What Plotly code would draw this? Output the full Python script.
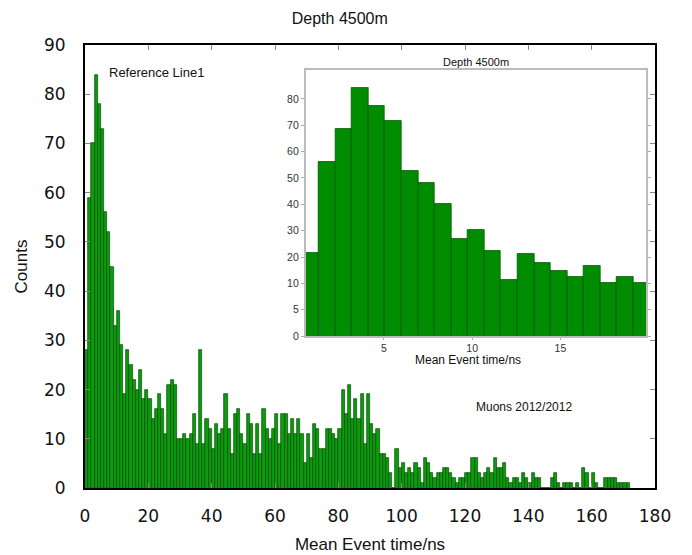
import numpy as np
import plotly.graph_objects as go

# ---------------- data ----------------
# main histogram: counts per 1 ns bin, bins starting at 0 ns
main_counts = [
    28, 59, 70, 84, 78, 73, 56, 52, 45, 33, 36, 29, 19, 28, 25, 22, 20, 24, 18, 20,
    18, 14, 16, 19, 16, 11, 21, 22, 21, 10, 10, 11, 10, 11, 15, 9, 28, 9, 14, 12,
    8, 13, 11, 12, 19, 12, 7, 15, 16, 11, 9, 15, 13, 7, 13, 7, 16, 12, 10, 12,
    15, 9, 15, 15, 11, 14, 11, 14, 11, 5, 11, 6, 13, 12, 8, 8, 12, 12, 11, 10,
    12, 20, 15, 21, 14, 18, 14, 19, 9, 19, 13, 11, 12, 7, 7, 6, 3, 0, 8, 4,
    5, 3, 4, 3, 5, 4, 1, 6, 5, 3, 2, 3, 3, 4, 4, 3, 2, 1, 2, 2,
    3, 3, 6, 6, 3, 2, 3, 4, 3, 6, 4, 4, 5, 2, 1, 2, 2, 1, 3, 2,
    1, 3, 2, 2, 0, 0, 0, 2, 3, 1, 0, 1, 1, 1, 0, 1, 0, 4, 3, 0,
    3, 1, 0, 0, 2, 2, 2, 2, 1, 1, 1, 1,
]
main_bin_width = 1.0
main_x = [i * main_bin_width + main_bin_width / 2 for i in range(len(main_counts))]
main_xticks = [0, 20, 40, 60, 80, 100, 120, 140, 160, 180]
main_yticks = [0, 10, 20, 30, 40, 50, 60, 70, 80, 90]

# inset histogram (values read on the inset's own tick labels)
inset_counts = [21.4, 56, 68.5, 84.3, 77.3, 71.8, 52.8, 48.2, 40.1, 27, 30.3, 22.4,
                11.1, 21.3, 17.7, 14.7, 12.3, 16.6, 10, 12.3, 10]
inset_bin_start = 0.38
inset_bin_width = 0.938
inset_x = [inset_bin_start + inset_bin_width * (i + 0.5) for i in range(len(inset_counts))]
inset_ytick_labels = [0, 5, 10, 20, 30, 40, 50, 60, 70, 80]
inset_xticks = [5, 10, 15]

# inset y axis has evenly spaced labels 0,5,10,20,...; map counts onto that scale
inset_tick_pos = list(range(len(inset_ytick_labels)))
scale_labels = inset_ytick_labels + [90]          # continue the 10-step above 80
scale_pos = inset_tick_pos + [len(inset_ytick_labels)]
inset_y = list(np.interp(inset_counts, scale_labels, scale_pos))

FONT = "Liberation Sans, Arial, sans-serif"
TICKFONT = "DejaVu Sans, Verdana, sans-serif"

fig = go.Figure()
fig.add_trace(go.Bar(
    x=main_x, y=main_counts, width=main_bin_width,
    marker=dict(color="#0a9c0a", line=dict(color="#0b4a0b", width=0.7)),
    xaxis="x", yaxis="y", showlegend=False,
))
fig.add_trace(go.Bar(
    x=inset_x, y=inset_y, width=inset_bin_width,
    marker=dict(color="#008c00", line=dict(color="#005a00", width=0.8)),
    xaxis="x2", yaxis="y2", showlegend=False,
))

fig.update_layout(
    width=692, height=555,
    margin=dict(l=85, r=37, t=45, b=67),
    paper_bgcolor="white", plot_bgcolor="white",
    bargap=0,
    font=dict(family=FONT, color="#111"),
    title=dict(text="Depth 4500m", x=0.491, xref="container", xanchor="center",
               y=1 - 18 / 555, yref="container", yanchor="middle",
               font=dict(size=16, family=FONT, color="#111")),
    xaxis=dict(range=[0, 180], tickvals=main_xticks, ticks="inside", ticklen=5,
               tickcolor="#888", mirror="allticks", showline=True, linecolor="black",
               linewidth=2, showgrid=False, zeroline=False, automargin=False,
               tickfont=dict(size=17, family=TICKFONT, color="#111"),
               ticklabelstandoff=12,
               title=dict(text="Mean Event time/ns", font=dict(size=17, family=FONT),
                          standoff=13)),
    yaxis=dict(range=[0, 90], tickvals=main_yticks, ticks="inside", ticklen=5,
               tickcolor="#888", mirror="allticks", showline=True, linecolor="black",
               linewidth=2, showgrid=False, zeroline=False, automargin=False,
               tickfont=dict(size=17, family=TICKFONT, color="#111"),
               ticklabelstandoff=14,
               title=dict(text="Counts", font=dict(size=17, family=FONT), standoff=12)),
    xaxis2=dict(domain=[0.387, 0.985], anchor="y2", range=[0.57, 19.87],
                tickvals=inset_xticks, ticks="outside", ticklen=2, tickcolor="#aaa",
                showline=True, linecolor="#bbbbbb", linewidth=1.5, mirror=True,
                showgrid=False, zeroline=False,
                tickfont=dict(size=10.5, family=FONT, color="#333")),
    yaxis2=dict(domain=[0.343, 0.9436], anchor="x2", range=[0, 10.1],
                tickvals=inset_tick_pos, ticktext=[str(v) for v in inset_ytick_labels],
                ticks="outside", ticklen=3, tickcolor="#aaa",
                showline=True, linecolor="#bbbbbb", linewidth=1.5, mirror="ticks",
                showgrid=False, zeroline=False,
                tickfont=dict(size=10.5, family=FONT, color="#333")),
    annotations=[
        dict(text="Depth 4500m", xref="paper", yref="paper", x=0.686, y=0.962,
             xanchor="center", yanchor="middle", showarrow=False,
             font=dict(size=11, family=FONT, color="#111")),
        dict(text="Mean Event time/ns", xref="paper", yref="paper", x=0.672, y=0.288,
             xanchor="center", yanchor="middle", showarrow=False,
             font=dict(size=12, family=FONT, color="#111")),
        dict(text="Reference Line1", xref="paper", yref="paper", x=0.0386, y=0.939,
             xanchor="left", yanchor="middle", showarrow=False,
             font=dict(size=13, family=FONT, color="#111")),
        dict(text="Muons 2012/2012", xref="paper", yref="paper", x=0.682, y=0.183,
             xanchor="left", yanchor="middle", showarrow=False,
             font=dict(size=12, family=FONT, color="#111")),
    ],
)

fig.write_html("out.html")
